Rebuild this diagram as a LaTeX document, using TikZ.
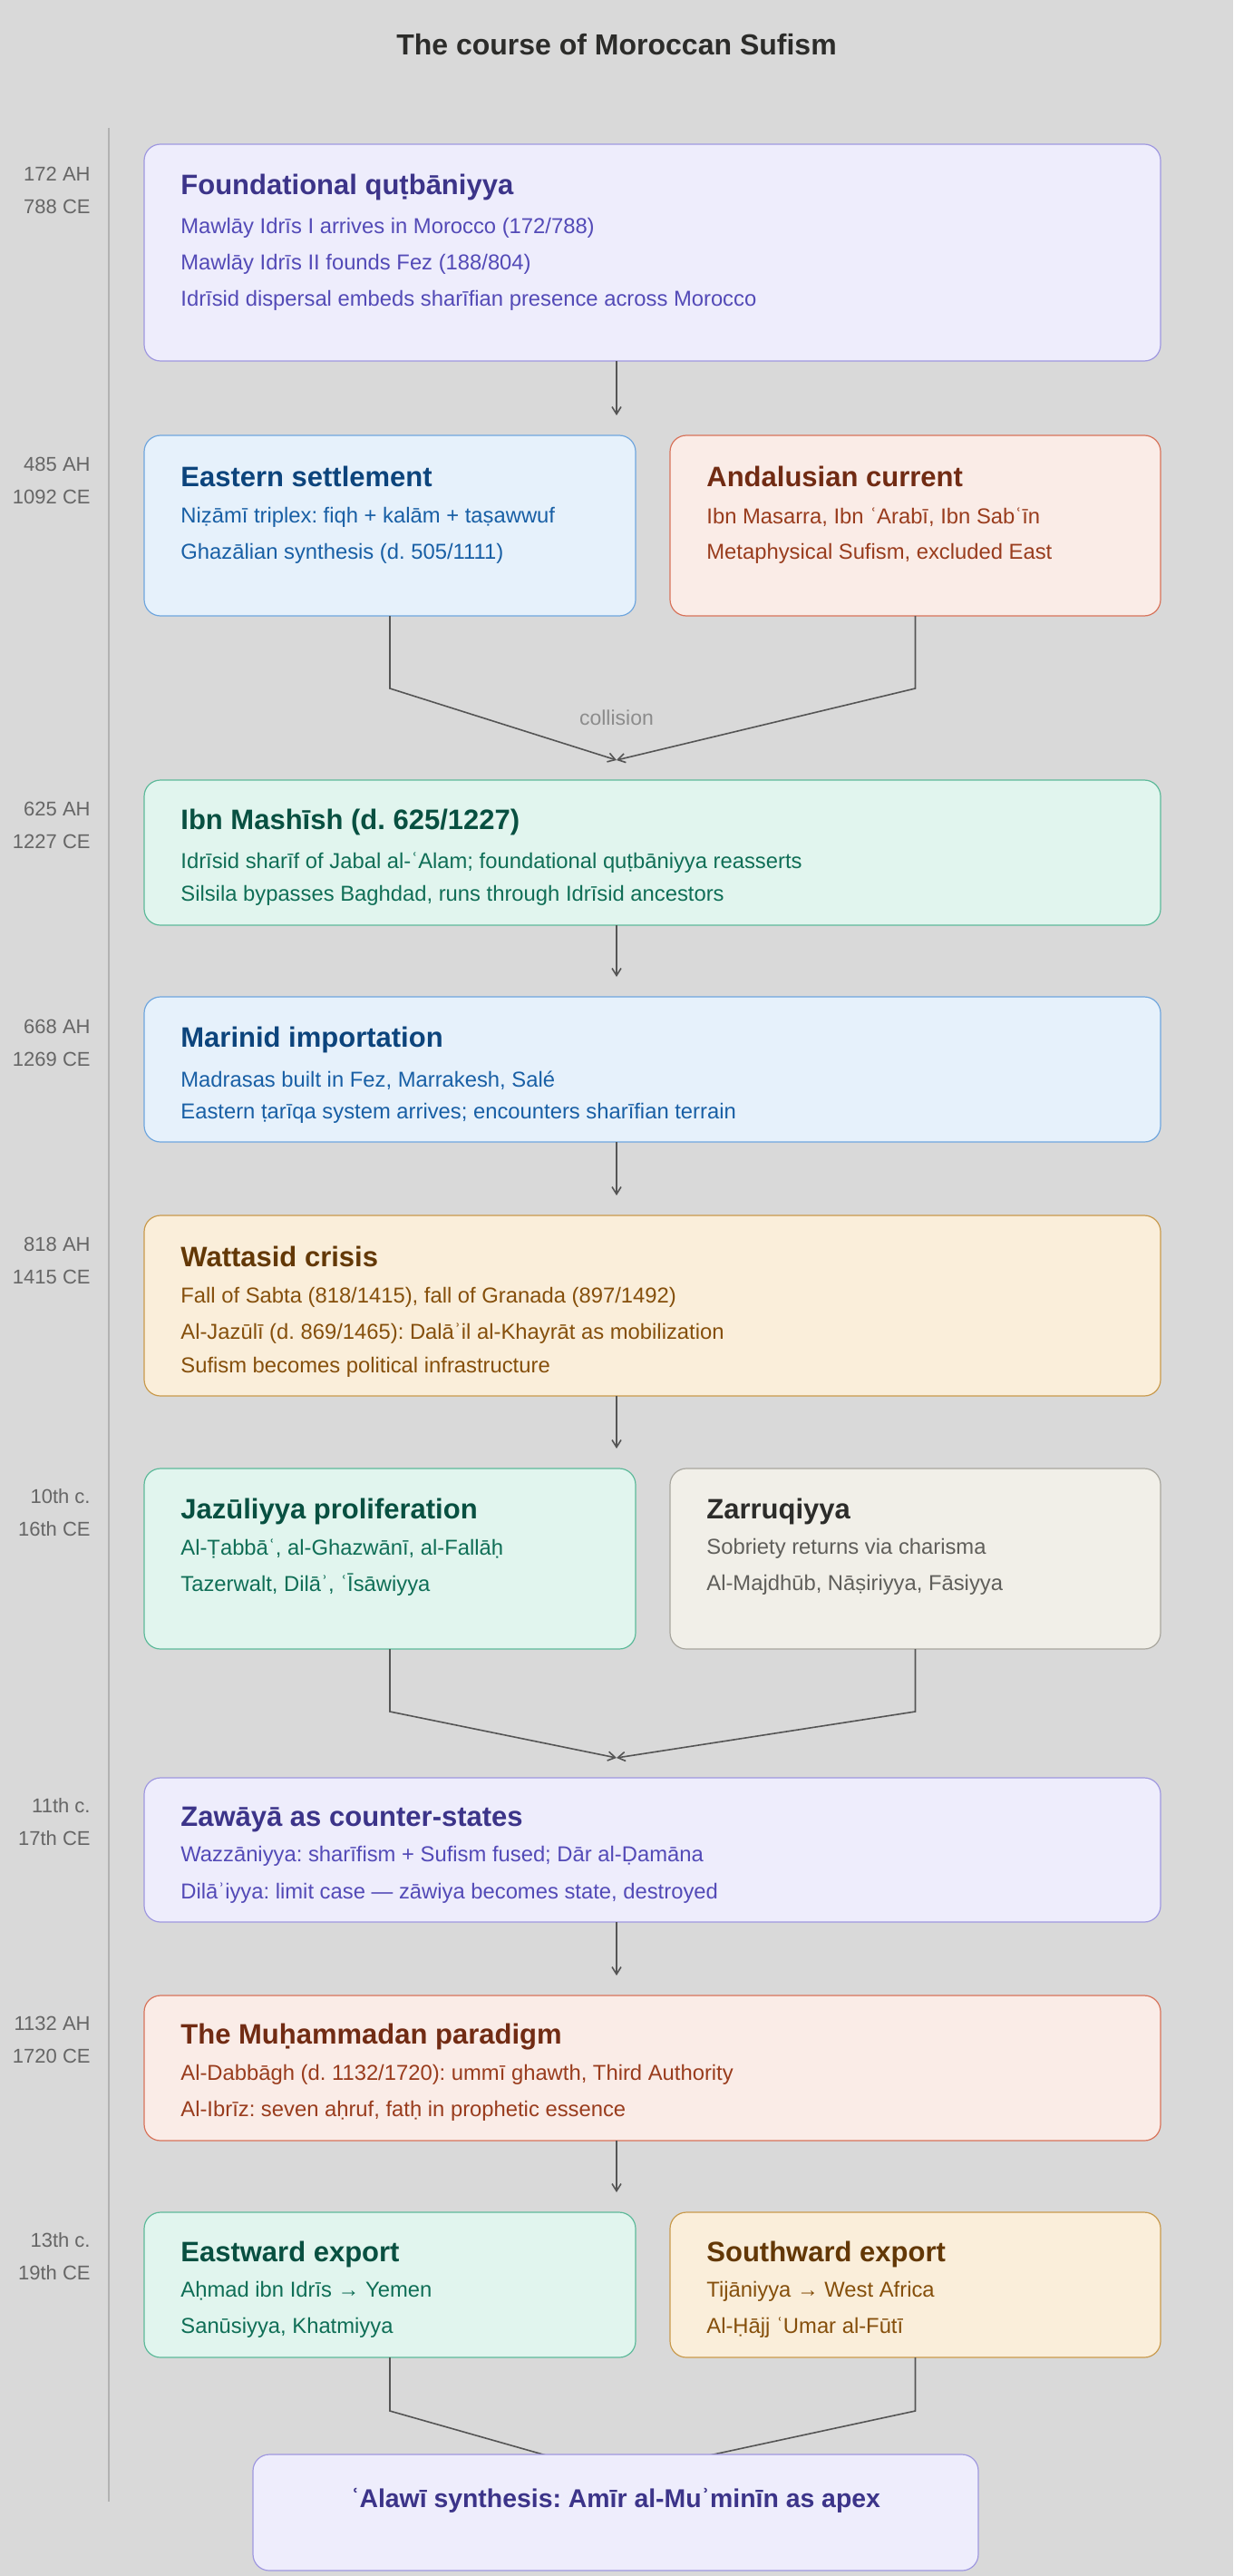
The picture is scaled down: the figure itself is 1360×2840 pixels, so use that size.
\documentclass[tikz,border=0pt]{standalone}
\usepackage{fontspec}
\setmainfont{Liberation Sans}
\frenchspacing
\usetikzlibrary{arrows.meta}
\definecolor{BG}{HTML}{D9D9D9}
\definecolor{PF}{HTML}{EEEDFC}\definecolor{PB}{HTML}{9F98E0}\definecolor{PT}{HTML}{3C3489}\definecolor{PX}{HTML}{534AB7}
\definecolor{BF}{HTML}{E6F1FB}\definecolor{BB}{HTML}{6FA6DE}\definecolor{BT}{HTML}{0C447C}\definecolor{BX}{HTML}{185FA5}
\definecolor{CF}{HTML}{FAECE7}\definecolor{CB}{HTML}{D8735A}\definecolor{CT}{HTML}{712B13}\definecolor{CX}{HTML}{993C1D}
\definecolor{TF}{HTML}{E1F5EE}\definecolor{TB}{HTML}{5DBA9A}\definecolor{TT}{HTML}{085041}\definecolor{TX}{HTML}{0F6E56}
\definecolor{AF}{HTML}{FAEEDA}\definecolor{AB}{HTML}{C99A4C}\definecolor{AT}{HTML}{633806}\definecolor{AX}{HTML}{854F0B}
\definecolor{GF}{HTML}{F1EFE8}\definecolor{GB}{HTML}{A8A69E}\definecolor{GT}{HTML}{2C2C2A}\definecolor{GX}{HTML}{5F5E5A}
\definecolor{LN}{HTML}{555555}
\tikzset{
 bx/.style={draw=#1B, fill=#1F, rounded corners=9pt, line width=0.6pt, inner sep=0pt, outer sep=0pt},
 ttl/.style={anchor=west, inner sep=0pt, text=#1T, font=\fontsize{15.5}{18}\selectfont\bfseries},
 txt/.style={anchor=west, inner sep=0pt, text=#1X, font=\fontsize{11.9}{14}\selectfont},
 dt/.style={anchor=east, inner sep=0pt, text=black!60, font=\fontsize{11}{13}\selectfont},
 con/.style={draw=LN, line width=0.8pt},
 arr/.style={con, -{Straight Barb[length=4pt,width=5pt]}, shorten >=11pt},
}
\begin{document}
\begin{tikzpicture}[x=0.5pt,y=-0.5pt]
\fill[BG] (0,0) rectangle (1360,2840);
\node[font=\fontsize{16}{19}\selectfont\bfseries, text=GT] (title) at (680,49) {The course of Moroccan Sufism};
\coordinate (tl1) at (120,141); \coordinate (tl2) at (120,2758);
\draw[black!30, line width=0.6pt] (tl1) -- (tl2);
\coordinate (mid) at (680,0);
% dates
\foreach \n/\a/\b/\y in {d1/172 AH/788 CE/192, d2/485 AH/1092 CE/512, d3/625 AH/1227 CE/892, d4/668 AH/1269 CE/1132, d5/818 AH/1415 CE/1372, d6/10th c./16th CE/1650, d7/11th c./17th CE/1991, d8/1132 AH/1720 CE/2231, d9/13th c./19th CE/2470}{
 \node[dt] (\n a) at (100,\y) {\a};
 \node[dt] (\n b) at (100,\y+36) {\b};
}
% boxes
\node[bx=P, minimum width=560.5pt, minimum height=119.5pt] (b1) at (719.5,278.5) {};
\node[bx=B, minimum width=271pt, minimum height=99.5pt] (b2) at (430,579.5) {};
\node[bx=C, minimum width=270.5pt, minimum height=99.5pt] (b3) at (1009.5,579.5) {};
\node[bx=T, minimum width=560.5pt, minimum height=80pt] (b4) at (719.5,940) {};
\node[bx=B, minimum width=560.5pt, minimum height=80pt] (b5) at (719.5,1179) {};
\node[bx=A, minimum width=560.5pt, minimum height=99.5pt] (b6) at (719.5,1439.5) {};
\node[bx=T, minimum width=271pt, minimum height=99.5pt] (b7) at (430,1718.5) {};
\node[bx=G, minimum width=270.5pt, minimum height=99.5pt] (b8) at (1009.5,1718.5) {};
\node[bx=P, minimum width=560.5pt, minimum height=79.5pt] (b9) at (719.5,2039.5) {};
\node[bx=C, minimum width=560.5pt, minimum height=80pt] (b10) at (719.5,2280) {};
\node[bx=T, minimum width=271pt, minimum height=80pt] (b11) at (430,2519) {};
\node[bx=A, minimum width=270.5pt, minimum height=80pt] (b12) at (1009.5,2519) {};
% texts
\node[ttl=P] (t1) at (199,206) {Foundational quṭbāniyya};
\node[txt=P] (t1a) at (199,251) {Mawlāy Idrīs I arrives in Morocco (172/788)};
\node[txt=P] (t1b) at (199,291) {Mawlāy Idrīs II founds Fez (188/804)};
\node[txt=P] (t1c) at (199,331) {Idrīsid dispersal embeds sharīfian presence across Morocco};
\node[ttl=B] (t2) at (199,525) {Eastern settlement};
\node[txt=B] (t2a) at (199,570) {Niẓāmī triplex: fiqh + kalām + taṣawwuf};
\node[txt=B] (t2b) at (199,610) {Ghazālian synthesis (d. 505/1111)};
\node[ttl=C] (t3) at (779,525) {Andalusian current};
\node[txt=C] (t3a) at (779,570) {Ibn Masarra, Ibn ʿArabī, Ibn Sabʿīn};
\node[txt=C] (t3b) at (779,610) {Metaphysical Sufism, excluded East};
\node[ttl=T] (t4) at (199,906) {Ibn Mashīsh (d. 625/1227)};
\node[txt=T] (t4a) at (199,951) {Idrīsid sharīf of Jabal al-ʿAlam; foundational quṭbāniyya reasserts};
\node[txt=T] (t4b) at (199,987) {Silsila bypasses Baghdad, runs through Idrīsid ancestors};
\node[ttl=B] (t5) at (199,1146) {Marinid importation};
\node[txt=B] (t5a) at (199,1191) {Madrasas built in Fez, Marrakesh, Salé};
\node[txt=B] (t5b) at (199,1227) {Eastern ṭarīqa system arrives; encounters sharīfian terrain};
\node[ttl=A] (t6) at (199,1385) {Wattasid crisis};
\node[txt=A] (t6a) at (199,1430) {Fall of Sabta (818/1415), fall of Granada (897/1492)};
\node[txt=A] (t6b) at (199,1470) {Al-Jazūlī (d. 869/1465): Dalāʾil al-Khayrāt as mobilization};
\node[txt=A] (t6c) at (199,1507) {Sufism becomes political infrastructure};
\node[ttl=T] (t7) at (199,1666) {Jazūliyya proliferation};
\node[txt=T] (t7a) at (199,1707) {Al-Ṭabbāʿ, al-Ghazwānī, al-Fallāḥ};
\node[txt=T] (t7b) at (199,1747) {Tazerwalt, Dilāʾ, ʿĪsāwiyya};
\node[ttl=G] (t8) at (779,1666) {Zarruqiyya};
\node[txt=G] (t8a) at (779,1707) {Sobriety returns via charisma};
\node[txt=G] (t8b) at (779,1747) {Al-Majdhūb, Nāṣiriyya, Fāsiyya};
\node[ttl=P] (t9) at (199,2006) {Zawāyā as counter-states};
\node[txt=P] (t9a) at (199,2046) {Wazzāniyya: sharīfism + Sufism fused; Dār al-Ḍamāna};
\node[txt=P] (t9b) at (199,2087) {Dilāʾiyya: limit case — zāwiya becomes state, destroyed};
\node[ttl=C] (t10) at (199,2246) {The Muḥammadan paradigm};
\node[txt=C] (t10a) at (199,2287) {Al-Dabbāgh (d. 1132/1720): ummī ghawth, Third Authority};
\node[txt=C] (t10b) at (199,2327) {Al-Ibrīz: seven aḥruf, fatḥ in prophetic essence};
\node[ttl=T] (t11) at (199,2485) {Eastward export};
\node[txt=T] (t11a) at (199,2526) {Aḥmad ibn Idrīs → Yemen};
\node[txt=T] (t11b) at (199,2566) {Sanūsiyya, Khatmiyya};
\node[ttl=A] (t12) at (779,2485) {Southward export};
\node[txt=A] (t12a) at (779,2526) {Tijāniyya → West Africa};
\node[txt=A] (t12b) at (779,2566) {Al-Ḥājj ʿUmar al-Fūtī};
% connectors
\draw[arr] (b1.south -| mid) -- (b2.north -| mid);
\coordinate (m1) at (680,838);
\draw[con, -{Straight Barb[length=4pt,width=5pt]}] (b2.south) -- ++(0,80) -- (m1);
\draw[con, -{Straight Barb[length=4pt,width=5pt]}] (b3.south) -- ++(0,80) -- (m1);
\node[text=black!45, font=\fontsize{11.5}{13}\selectfont] (col) at (680,791) {collision};
\draw[arr] (b4.south -| mid) -- (b5.north -| mid);
\draw[arr] (b5.south -| mid) -- (b6.north -| mid);
\draw[arr] (b6.south -| mid) -- (b7.north -| mid);
\coordinate (m2) at (680,1938);
\draw[con, -{Straight Barb[length=4pt,width=5pt]}] (b7.south) -- ++(0,69) -- (m2);
\draw[con, -{Straight Barb[length=4pt,width=5pt]}] (b8.south) -- ++(0,69) -- (m2);
\draw[arr] (b9.south -| mid) -- (b10.north -| mid);
\draw[arr] (b10.south -| mid) -- (b11.north -| mid);
\coordinate (m3) at (680,2729);
\draw[con] (b11.south) -- ++(0,59) -- (m3);
\draw[con] (b12.south) -- ++(0,59) -- (m3);
\node[bx=P, minimum width=400pt, minimum height=64pt] (b13) at (679,2770) {};
\node[text=PT, font=\fontsize{14.2}{16}\selectfont\bfseries] (t13) at (679,2757) {ʿAlawī synthesis: Amīr al-Muʾminīn as apex};
\end{tikzpicture}
\end{document}
